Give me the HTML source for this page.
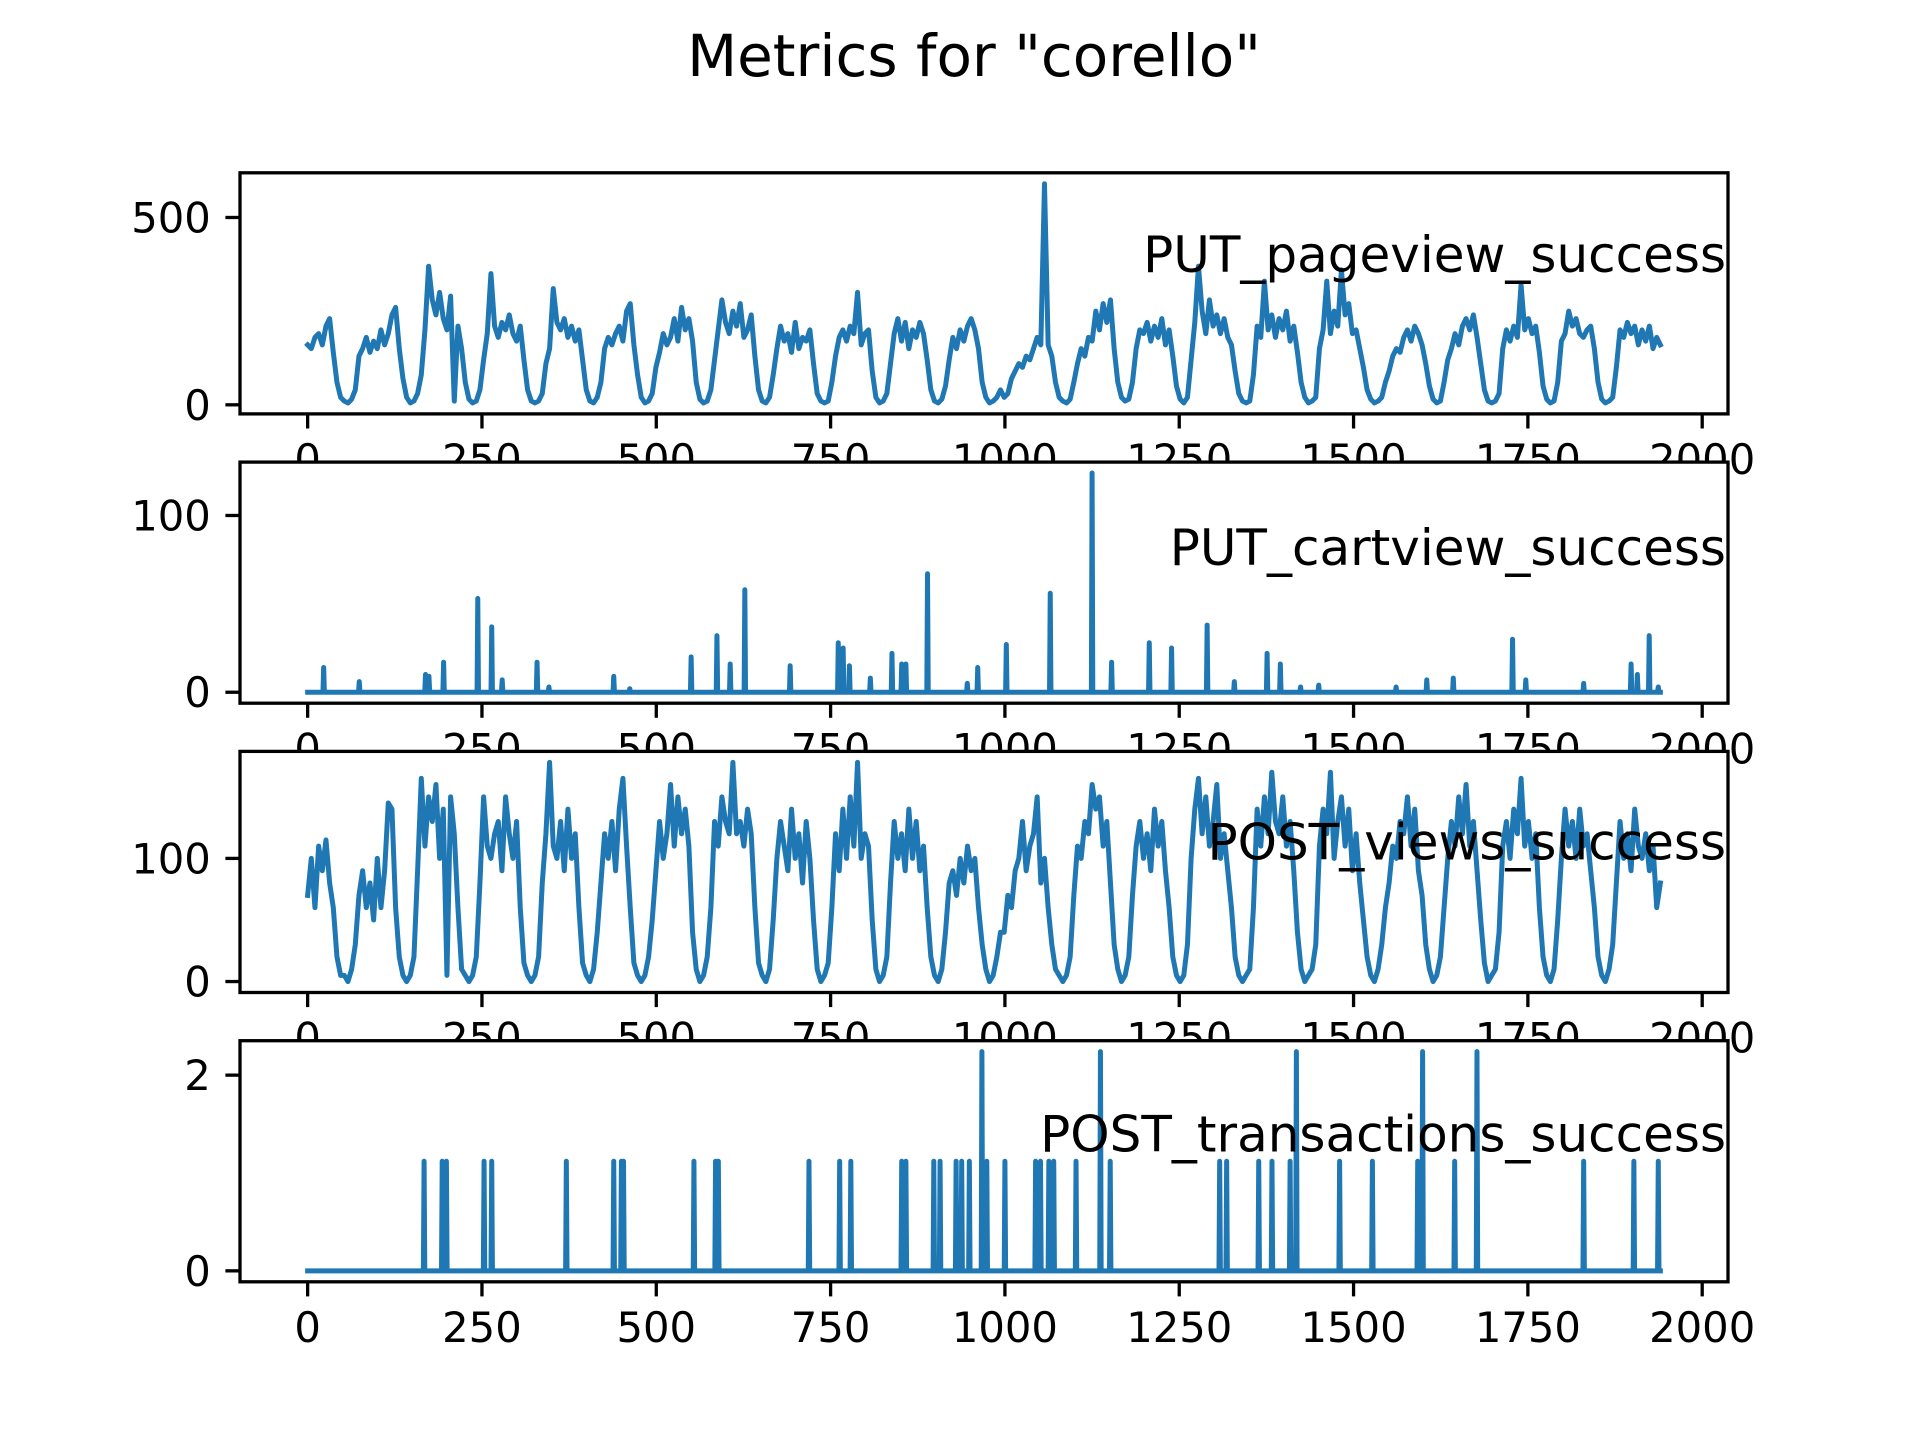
<!DOCTYPE html>
<html><head><meta charset="utf-8"><style>
html,body{margin:0;padding:0;background:#fff;}
svg{display:block;}
text{font-family:"DejaVu Sans","Liberation Sans",sans-serif;fill:#000;}
</style></head>
<body>
<svg id="fig" width="1920" height="1440" viewBox="0 0 1920 1440" xmlns="http://www.w3.org/2000/svg">
<rect width="1920" height="1440" fill="#fff"/>
<text x="974" y="56" font-size="58" text-anchor="middle" dominant-baseline="central">Metrics for "corello"</text>
</svg>
<script>
const X_LAST = 1940;
const xTicks = [0,250,500,750,1000,1250,1500,1750,2000];
const pageviewValues = [
160,150,180,190,160,210,230,140,60,20,
10,5,15,40,130,150,180,140,170,150,200,160,190,240,260,150,70,20,
5,10,30,80,200,370,280,240,300,230,200,290,10,210,150,60,15,
5,10,40,120,190,350,210,180,220,200,240,190,170,210,120,40,10,5,
10,30,110,150,310,220,200,230,180,210,170,200,120,40,10,5,20,
60,150,180,160,190,210,170,250,270,160,80,20,5,10,
30,100,140,190,160,180,230,170,260,200,230,170,60,15,5,10,40,
120,200,280,220,190,250,210,270,180,200,240,130,40,10,5,20,
80,150,210,170,190,140,220,150,180,170,200,110,30,10,5,10,
60,130,180,200,170,210,190,300,160,190,200,90,20,5,10,30,
110,190,230,170,220,150,200,180,220,190,120,40,10,5,15,50,
120,180,150,200,170,210,230,200,150,60,20,5,10,20,40,
20,30,70,90,110,100,130,120,150,180,160,590,160,130,60,20,10,
5,15,60,110,150,130,180,170,250,200,270,220,280,150,60,20,10,
15,60,150,200,190,220,170,210,180,230,160,200,130,50,15,5,
20,120,220,370,250,190,280,210,240,190,230,180,160,90,30,10,5,10,
80,210,180,330,200,240,180,230,200,250,170,210,140,60,20,5,10,20,
150,200,330,190,250,210,360,240,270,190,200,150,100,40,15,5,10,20,60,
90,130,150,140,180,200,170,210,190,160,110,50,15,5,10,
60,120,150,190,160,210,230,200,240,180,110,40,10,5,10,30,
150,200,170,210,180,320,200,230,190,210,140,50,15,5,10,
60,170,190,250,210,230,190,180,200,210,150,60,15,5,10,20,
100,200,180,220,190,210,160,200,170,210,150,180,160];
const viewsValues = [
70,100,60,110,90,115,80,60,20,5,
5,0,10,30,70,90,60,80,50,100,60,90,145,140,60,20,5,0,
5,20,90,165,110,150,130,160,100,140,5,150,120,60,10,5,0,
5,20,80,150,110,100,120,130,90,150,120,100,130,60,15,5,0,5,
20,80,120,178,110,100,130,90,140,100,120,60,15,5,0,10,40,
80,120,100,130,90,140,165,110,60,15,5,0,5,20,
50,90,130,100,120,160,110,150,120,140,110,40,10,0,5,20,60,
130,110,150,130,120,178,120,130,110,140,120,60,15,5,0,10,
50,100,130,110,90,140,100,120,80,130,100,50,10,0,5,15,
60,120,90,140,100,150,110,178,100,120,110,50,10,0,5,20,
80,130,100,120,90,140,100,130,90,110,60,20,5,0,10,40,
80,90,70,100,80,110,90,100,60,30,10,0,5,20,40,
40,70,60,90,100,130,90,110,120,150,80,100,60,30,10,5,0,
5,20,70,110,100,130,120,160,140,150,110,130,80,30,10,0,5,
20,70,110,130,100,120,90,140,110,130,90,60,20,5,0,5,
30,100,140,165,120,150,110,130,160,100,120,90,60,20,5,0,5,10,
60,140,110,150,120,170,130,120,150,110,130,90,40,10,0,5,10,30,
110,140,120,170,100,130,150,110,140,90,120,80,50,20,5,0,10,30,60,
80,110,100,130,120,150,110,140,90,70,30,10,0,5,20,
60,100,130,110,150,120,160,110,130,90,50,15,0,5,10,40,
110,130,100,140,120,165,110,130,100,120,60,20,5,0,10,
50,100,140,110,130,100,140,110,120,90,60,20,5,0,10,30,
80,130,100,120,90,140,110,100,120,90,110,60,80];
const cartSpikeX = [23,74,169,174,195,244,264,279,329,346,439,462,550,587,606,627,692,761,768,777,807,838,852,858,889,946,961,1002,1065,1125,1153,1207,1239,1290,1329,1376,1395,1424,1450,1561,1605,1643,1728,1747,1830,1898,1907,1924,1937];
const cartSpikeY = [14,6,10,9,17,53,37,7,17,3,9,2,20,32,16,58,15,28,25,15,8,22,16,16,67,5,14,27,56,124,17,28,25,38,6,22,16,3,4,3,7,8,30,7,5,16,10,32,3];
const txSpikeX = [167,193,199,253,264,371,439,450,453,554,585,589,719,763,779,852,858,898,907,930,938,949,967,974,1000,1044,1051,1063,1070,1102,1137,1151,1308,1318,1364,1383,1409,1418,1480,1527,1592,1599,1645,1677,1830,1902,1937];
const txSpikeY = [1.12,1.12,1.12,1.12,1.12,1.12,1.12,1.12,1.12,1.12,1.12,1.12,1.12,1.12,1.12,1.12,1.12,1.12,1.12,1.12,1.12,1.12,2.24,1.12,1.12,1.12,1.12,1.12,1.12,1.12,2.24,1.12,1.12,1.12,1.12,1.12,1.12,2.24,1.12,1.12,1.12,2.24,1.12,2.24,1.12,1.12,1.12];
const panelNames = ["PUT_pageview_success","PUT_cartview_success","POST_views_success","POST_transactions_success"];
const yTicksList = [[0,500],[0,100],[0,100],[0,2]];
const labelFrac = [0.34,0.357,0.377,0.39];

const NS = "http://www.w3.org/2000/svg";
const svg = document.getElementById('fig');
const L = 240, R = 1728, H = 241.1, GAP = 48.2, TOP0 = 172.8;
const xMin = -X_LAST*0.05, xMax = X_LAST*1.05;
function xScale(v){ return L + (v - xMin) / (xMax - xMin) * (R - L); }

function spikeSeries(xs, ys){
  const n = X_LAST + 1; const arr = new Array(n).fill(0);
  xs.forEach((x,i)=>{ arr[x] = ys[i]; });
  return arr;
}
const series = [pageviewValues, spikeSeries(cartSpikeX, cartSpikeY), viewsValues, spikeSeries(txSpikeX, txSpikeY)];
function mk(tag, attrs){ const e = document.createElementNS(NS, tag); for (const k in attrs) e.setAttribute(k, attrs[k]); svg.appendChild(e); return e; }

series.forEach((vals, p) => {
  const top = TOP0 + p*(H+GAP), bot = top + H;
  const step = X_LAST / (vals.length - 1);
  const mx = Math.max(...vals), mn = Math.min(...vals);
  const yMin = mn - (mx-mn)*0.05, yMax = mx + (mx-mn)*0.05;
  const yScale = v => bot - (v - yMin)/(yMax - yMin)*H;
  const bg = mk('rect', {x:L, y:top, width:R-L, height:H, fill:'#fff'});
  
  
  let d = '';
  vals.forEach((v,i)=>{ d += (i?'L':'M') + xScale(i*step).toFixed(2) + ',' + yScale(v).toFixed(2); });
  const path = mk('path', {d: d, fill:'none', stroke:'#1f77b4', 'stroke-width':5, 'stroke-linejoin':'round', 'stroke-linecap':'square'});
  
  
  const frame = mk('rect', {x:L, y:top, width:R-L, height:H, fill:'none', stroke:'#000', 'stroke-width':3.3});
  
  
  xTicks.forEach(t => {
    const x = xScale(t);
    const tk = mk('line', {x1:x, x2:x, y1:bot, y2:bot+14.6, stroke:'#000', 'stroke-width':3.3});
    
    
    const tl = mk('text', {x:x, y:bot+14.6+14.6+31, 'font-size':41.7, 'text-anchor':'middle'});
    tl.textContent = t;
    
    
  });
  yTicksList[p].forEach(t => {
    const y = yScale(t);
    const tk = mk('line', {x1:L-14.6, x2:L, y1:y, y2:y, stroke:'#000', 'stroke-width':3.3});
    
    
    const tl = mk('text', {x:L-14.6-14.6, y:y+15, 'font-size':41.7, 'text-anchor':'end'});
    tl.textContent = t;
    
    
  });
  const lab = mk('text', {x:R-2, y: top + labelFrac[p]*H, 'font-size':50, 'text-anchor':'end', 'dominant-baseline':'central'});
  lab.textContent = panelNames[p];
  
  
});
</script>
</body></html>
